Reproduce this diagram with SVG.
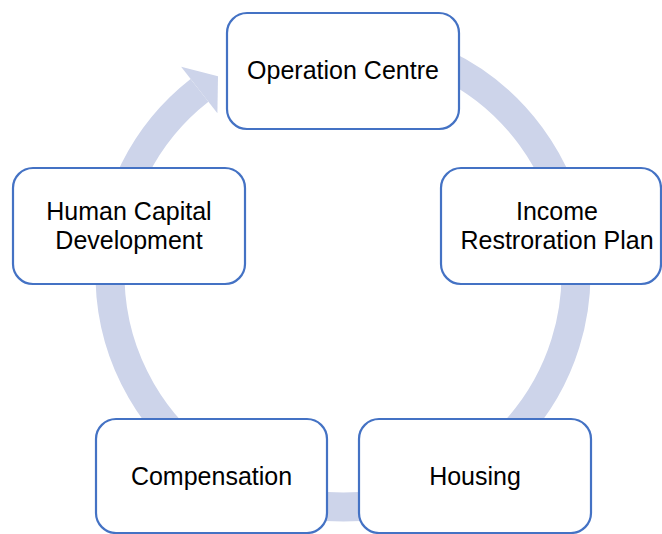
<svg xmlns="http://www.w3.org/2000/svg" width="662" height="534" viewBox="0 0 662 534">
  <style>
    .box { fill: #ffffff; stroke: #4472C4; stroke-width: 2.2; }
    .lbl { font-family: "Liberation Sans", Arial, sans-serif; font-size: 25px; fill: #000000; text-anchor: middle; }
    .ring { fill: none; stroke: #CDD4EA; stroke-width: 29; }
    .head { fill: #CDD4EA; }
  </style>
  <rect width="662" height="534" fill="#ffffff"/>
  <g id="connectors">
    <path class="ring" d="M 343 41 A 233 233 0 1 1 199.5 90.4"/>
    <polygon class="head" points="181.1,66.8 218.0,76.2 217.4,113.2"/>
  </g>
  <g id="node-operation-centre">
    <rect class="box" x="227" y="13" width="232" height="116" rx="20" ry="20"/>
    <text class="lbl" x="343" y="79">Operation Centre</text>
  </g>
  <g id="node-income-restoration">
    <rect class="box" x="441" y="168" width="220" height="116" rx="20" ry="20"/>
    <text class="lbl" x="557" y="220">Income</text>
    <text class="lbl" x="557" y="249">Restroration Plan</text>
  </g>
  <g id="node-housing">
    <rect class="box" x="359" y="419" width="232" height="114" rx="20" ry="20"/>
    <text class="lbl" x="475" y="485">Housing</text>
  </g>
  <g id="node-compensation">
    <rect class="box" x="96" y="419" width="231" height="114" rx="20" ry="20"/>
    <text class="lbl" x="211.5" y="485">Compensation</text>
  </g>
  <g id="node-human-capital">
    <rect class="box" x="13" y="168" width="232" height="116" rx="20" ry="20"/>
    <text class="lbl" x="129" y="220">Human Capital</text>
    <text class="lbl" x="129" y="249">Development</text>
  </g>
</svg>
